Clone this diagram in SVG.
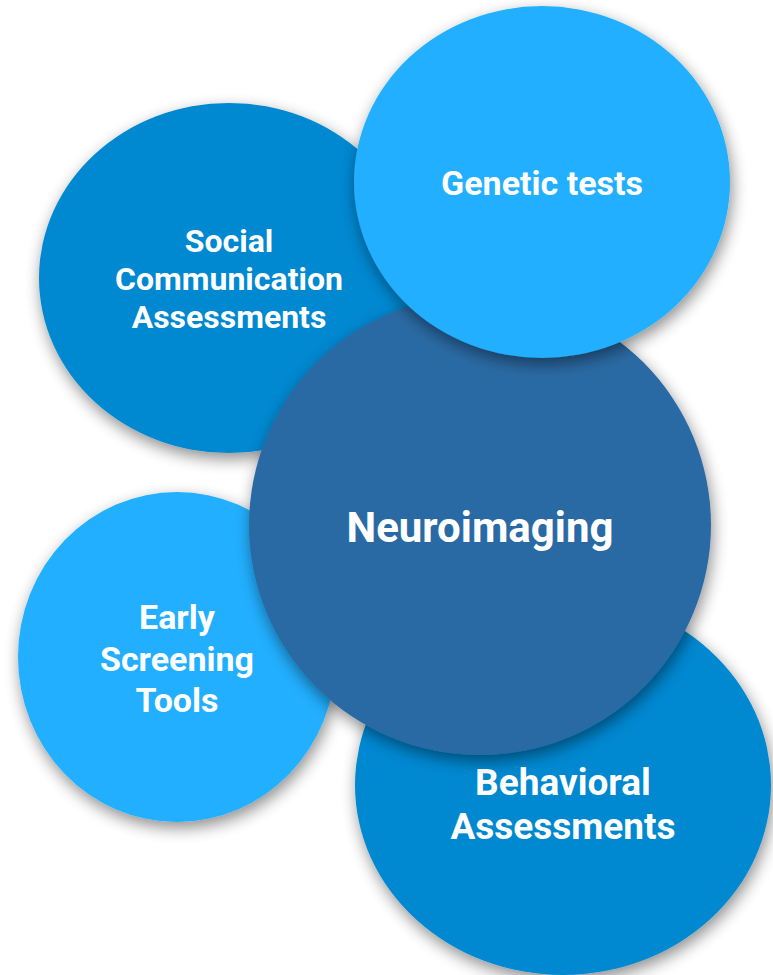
<svg xmlns="http://www.w3.org/2000/svg" width="773" height="975" viewBox="0 0 773 975">
<defs>
<filter id="sh" x="-20%" y="-20%" width="140%" height="140%">
<feGaussianBlur in="SourceAlpha" stdDeviation="8"/>
<feOffset dx="2" dy="6" result="b"/>
<feComponentTransfer><feFuncA type="linear" slope="0.45"/></feComponentTransfer>
<feMerge><feMergeNode/><feMergeNode in="SourceGraphic"/></feMerge>
</filter>
<style>
.t{font-family:Roboto,"Liberation Sans",sans-serif;font-weight:bold;fill:#fff;text-anchor:middle}
.mid{fill:#0288D1}
.light{fill:#20AFFF}
.dark{fill:#2A6AA4}
</style>
</defs>
<rect width="773" height="975" fill="#fff"/>
<g id="social">
<ellipse class="mid" cx="229" cy="278" rx="190" ry="175" filter="url(#sh)"/>
<text class="t" font-size="32"><tspan x="229" y="252">Social</tspan><tspan x="229" y="290">Communication</tspan><tspan x="229" y="328">Assessments</tspan></text>
</g>
<g id="early">
<ellipse class="light" cx="177" cy="657" rx="159" ry="165" filter="url(#sh)"/>
<text class="t" font-size="34"><tspan x="177" y="629">Early</tspan><tspan x="177" y="671">Screening</tspan><tspan x="177" y="712">Tools</tspan></text>
</g>
<g id="behavioral">
<ellipse class="mid" cx="563" cy="785" rx="208" ry="190" filter="url(#sh)"/>
<text class="t" font-size="37"><tspan x="563" y="795">Behavioral</tspan><tspan x="563" y="839">Assessments</tspan></text>
</g>
<g id="neuroimaging">
<ellipse class="dark" cx="480" cy="525" rx="231" ry="230" filter="url(#sh)"/>
<text class="t" font-size="42" x="480" y="542">Neuroimaging</text>
</g>
<g id="genetic">
<ellipse class="light" cx="542" cy="182" rx="188" ry="176" filter="url(#sh)"/>
<text class="t" font-size="34" x="542" y="195">Genetic tests</text>
</g>
<g id="connectors"/>
</svg>
